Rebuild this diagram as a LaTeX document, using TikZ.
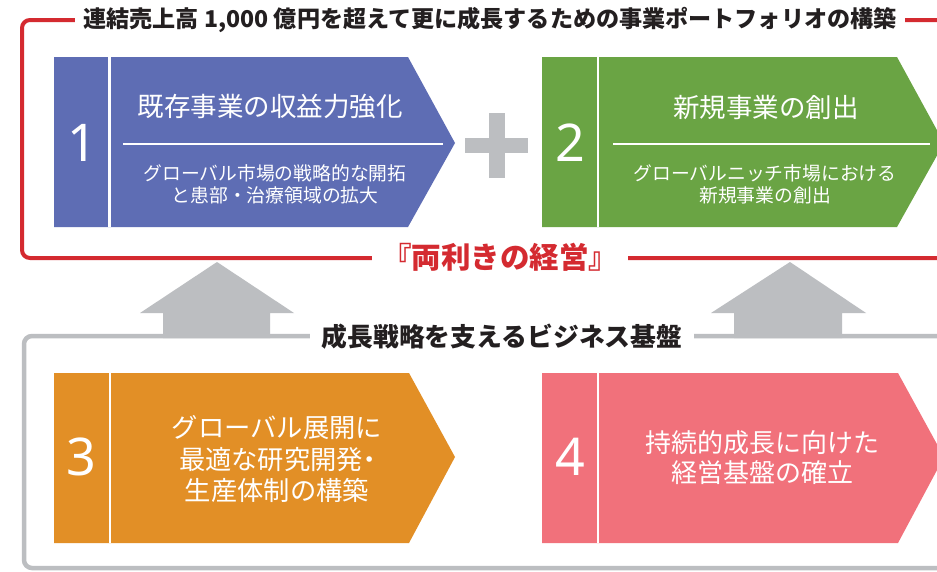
\documentclass[tikz,border=0pt]{standalone}
\usepackage{fontspec}
\newfontfamily\jp{Noto Sans CJK JP}
\newfontfamily\numfont{Noto Sans}
\definecolor{cblue}{HTML}{5E6DB4}
\definecolor{cgreen}{HTML}{6AA444}
\definecolor{corange}{HTML}{E28F26}
\definecolor{cpink}{HTML}{F1717B}
\definecolor{cred}{HTML}{D42A30}
\definecolor{cgray}{HTML}{BCBEC1}
\definecolor{ctext}{HTML}{231F20}
\begin{document}
\begin{tikzpicture}[x=1pt,y=-1pt,
  numlabel/.style={text=white,font=\numfont\fontsize{52}{60}\selectfont,inner sep=0},
  headlabel/.style={text=white,font=\jp\fontsize{26.5}{30}\selectfont,inner sep=0},
  sublabel/.style={text=white,font=\jp\fontsize{18.8}{22}\selectfont,align=center,inner sep=0},
  biglabel/.style={text=white,font=\jp\fontsize{26.3}{31.5}\selectfont,align=center,inner sep=0},
  divider/.style={white,line width=2.5pt},
  frameline/.style={line width=4pt,rounded corners=8pt},
  uparrow/.style={fill=cgray,draw=none}]
\useasboundingbox (0,0) rectangle (937,571);
\fill[white] (0,0) rectangle (937,571);

% red frame
\draw[frameline,cred] (945,20) -- (22,20) -- (22,258) -- (945,258);
\node[fill=white,inner xsep=8pt,inner ysep=2pt,text=ctext,font=\jp\bfseries\fontsize{23.1}{26}\selectfont] (title) at (490,20)
  {連結売上高 1,000 億円を超えて更に成長するための事業ポートフォリオの構築};
\node[fill=white,inner xsep=10pt,inner ysep=2pt,text=cred,font=\jp\bfseries\fontsize{29.5}{32}\selectfont] (ryoki) at (500,257)
  {『両利きの経営』};

% gray up arrows
\fill[uparrow] (217,262) -- (294,313) -- (270,313) -- (270,338) -- (163,338) -- (163,313) -- (140,313) -- cycle;
\fill[uparrow] (790,262) -- (866,313) -- (842,313) -- (842,338) -- (734,338) -- (734,313) -- (711,313) -- cycle;

% gray frame
\draw[frameline,cgray,line width=4.5pt] (945,336) -- (24,336) -- (24,568) -- (945,568);
\node[fill=white,inner xsep=12pt,inner ysep=2pt,text=ctext,font=\jp\bfseries\fontsize{25.8}{28}\selectfont] (base) at (502,337)
  {成長戦略を支えるビジネス基盤};

% box 1
\fill[cblue] (54,57) -- (408,57) -- (455,143) -- (408,227) -- (54,227) -- cycle;
\draw[divider] (109.5,57) -- (109.5,227);
\coordinate (l1a) at (123,144); \coordinate (l1b) at (443,144);
\draw[white,line width=1.2pt] (l1a) -- (l1b);
\node[numlabel] (n1) at (82,143) {1};
\node[headlabel] (h1) at (270,107) {既存事業の収益力強化};
\node[sublabel] (s1) at (275,184) {グローバル市場の戦略的な開拓\\と患部・治療領域の拡大};

% plus
\fill[cgray] (465,138) rectangle (528,153);
\fill[cgray] (489,113) rectangle (505,178);

% box 2
\fill[cgreen] (542,57) -- (897,57) -- (944,143) -- (897,227) -- (542,227) -- cycle;
\draw[divider] (598,57) -- (598,227);
\coordinate (l2a) at (613,144); \coordinate (l2b) at (930,144);
\draw[white,line width=1.2pt] (l2a) -- (l2b);
\node[numlabel] (n2) at (570,143) {2};
\node[headlabel] (h2) at (766,107) {新規事業の創出};
\node[sublabel] (s2) at (765,184) {グローバルニッチ市場における\\新規事業の創出};

% box 3
\fill[corange] (54,373) -- (409,373) -- (455,457) -- (409,543) -- (54,543) -- cycle;
\draw[divider] (110,373) -- (110,543);
\node[numlabel] (n3) at (81,457) {3};
\node[biglabel] (t3) at (277,459) {グローバル展開に\\最適な研究開発\kern-0.25em・\kern-0.3em\\生産体制の構築};

% box 4
\fill[cpink] (542,373) -- (898,373) -- (944,457) -- (898,543) -- (542,543) -- cycle;
\draw[divider] (598,373) -- (598,543);
\node[numlabel] (n4) at (570,457) {4};
\node[biglabel,font=\jp\fontsize{26}{30}\selectfont] (t4) at (762,458) {持続的成長に向けた\\経営基盤の確立};
\end{tikzpicture}
\end{document}
